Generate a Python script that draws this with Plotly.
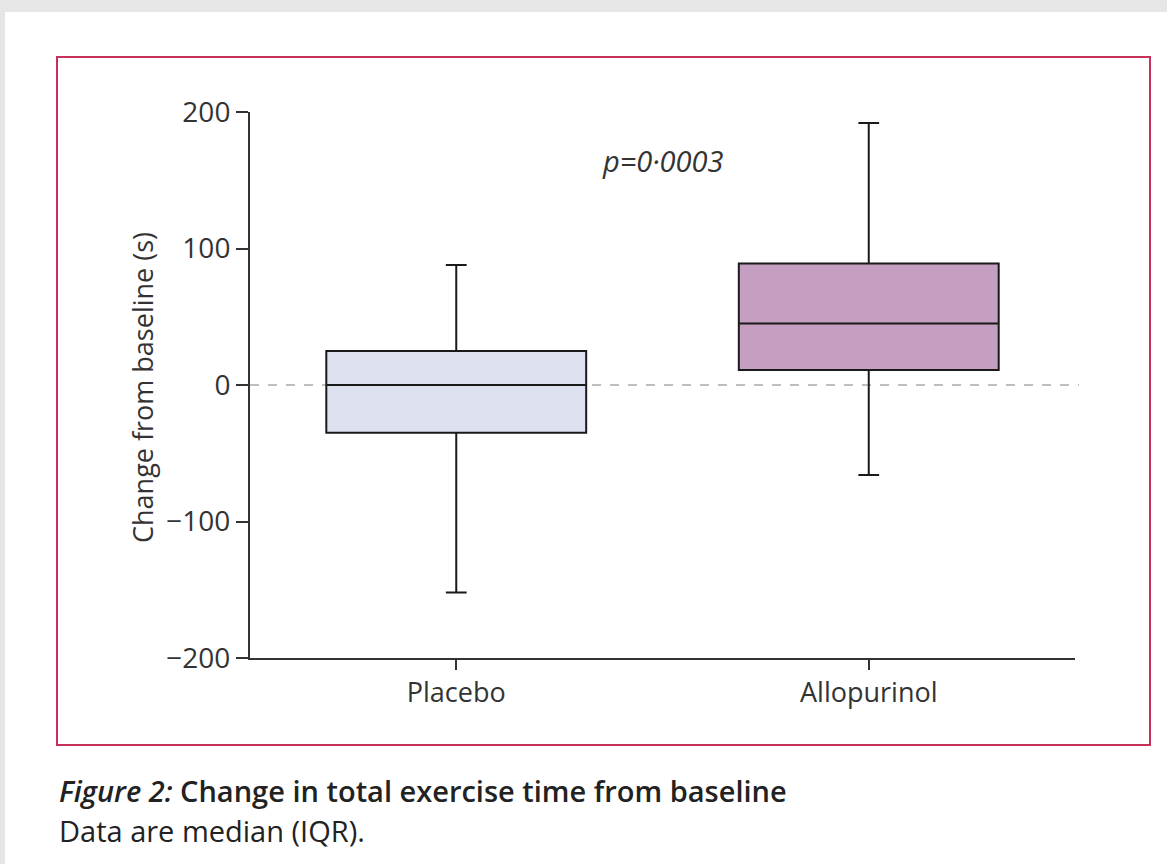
import plotly.graph_objects as go

# ---- data ----
groups = ["Placebo", "Allopurinol"]
q1 = [-35, 11]
median = [0, 45]
q3 = [25, 89]
lower_whisker = [-152, -66]
upper_whisker = [88, 192]
fill_colors = ["#dde1ef", "#c59fc1"]
y_ticks = [-200, -100, 0, 100, 200]
y_tick_labels = ["\u2212200", "\u2212100", "0", "100", "200"]
p_label = "p=0\u00b70003"

W, H = 1167, 864
L, R, T, B = 250, 92, 112, 206
pw, ph = W - L - R, H - T - B


def px(xp):
    return (xp - L) / pw


def py(yp):
    return (H - B - yp) / ph


fig = go.Figure()
for g, a, m, c, lo, hi, col in zip(groups, q1, median, q3, lower_whisker, upper_whisker, fill_colors):
    fig.add_trace(go.Box(
        x=[g], q1=[a], median=[m], q3=[c], lowerfence=[lo], upperfence=[hi],
        fillcolor=col, line=dict(color="#1a1a1a", width=2),
        width=0.63, whiskerwidth=0.08, boxpoints=False, hoverinfo="skip",
        showlegend=False,
    ))

font_main = "Open Sans, DejaVu Sans, sans-serif"
font_caption = "Open Sans, DejaVu Sans, sans-serif"

shapes = [
    # page card
    dict(type="rect", xref="paper", yref="paper", x0=px(5), x1=px(W + 5), y0=py(H + 5), y1=py(12),
         fillcolor="white", line=dict(width=0), layer="below"),
    # frame
    dict(type="rect", xref="paper", yref="paper", x0=px(57), x1=px(1150), y0=py(745), y1=py(57),
         line=dict(color="#c8325a", width=2), fillcolor="rgba(0,0,0,0)", layer="below"),
    # zero reference dashed line
    dict(type="line", xref="paper", yref="y", x0=0, x1=px(1079), y0=0, y1=0,
         line=dict(color="#aaaaaa", width=1.5, dash="dash"), layer="below"),
]

annotations = [
    dict(text="Change from baseline (s)", xref="paper", yref="paper", x=px(142), y=py(388),
         textangle=-90, showarrow=False, font=dict(family=font_main, size=27, color="#333333"),
         xanchor="center", yanchor="middle"),
    dict(text="<i>" + p_label + "</i>", xref="paper", yref="paper", x=px(663), y=py(160),
         showarrow=False, font=dict(family=font_main, size=29, color="#333333"),
         xanchor="center", yanchor="middle"),
    dict(text="<i>Figure 2:</i> Change in total exercise time from baseline", xref="paper", yref="paper",
         x=px(57), y=py(790), showarrow=False, xanchor="left", yanchor="middle",
         font=dict(family=font_caption, size=29, color="#222222", weight=600)),
    dict(text="Data are median (IQR).", xref="paper", yref="paper",
         x=px(57), y=py(830), showarrow=False, xanchor="left", yanchor="middle",
         font=dict(family=font_caption, size=29, color="#222222")),
]

fig.update_layout(
    width=W, height=H,
    margin=dict(l=L, r=R, t=T, b=B, autoexpand=False),
    paper_bgcolor="#e6e6e6", plot_bgcolor="rgba(0,0,0,0)",
    shapes=shapes, annotations=annotations,
    xaxis=dict(type="category", range=[-0.5, 1.5], showgrid=False, zeroline=False,
               showline=True, linecolor="#333333", linewidth=2,
               ticks="outside", ticklen=10, tickwidth=2, tickcolor="#333333",
               tickfont=dict(family=font_main, size=27, color="#333333")),
    yaxis=dict(range=[-200, 200], showgrid=False, zeroline=False,
               showline=True, linecolor="#333333", linewidth=2,
               ticks="outside", ticklen=12, tickwidth=2, tickcolor="#333333",
               tickvals=y_ticks, ticktext=y_tick_labels,
               tickfont=dict(family=font_main, size=28, color="#333333")),
)

fig.write_html("out.html", config={"displayModeBar": False},
               post_script="document.body.style.margin='0';")
